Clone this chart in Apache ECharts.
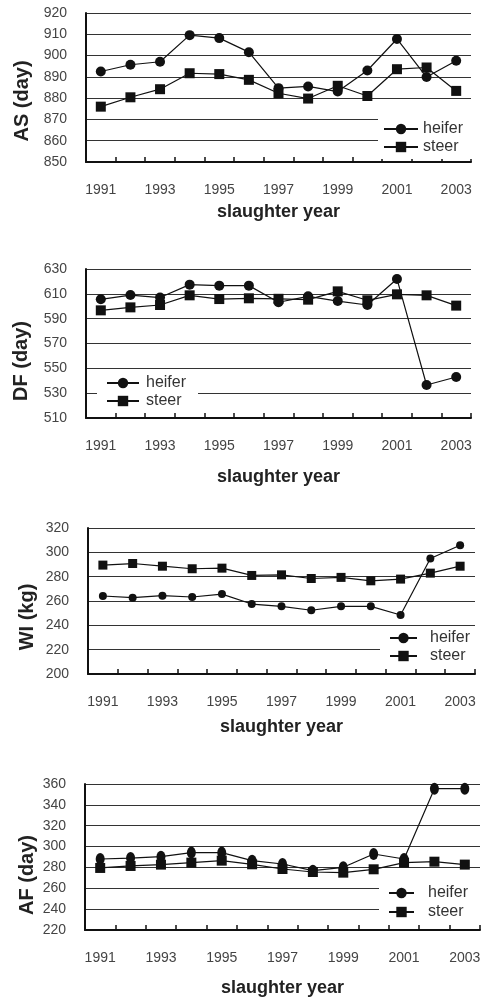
<!DOCTYPE html>
<html>
<head>
<meta charset="utf-8">
<script src="https://cdn.jsdelivr.net/npm/echarts@6/dist/echarts.min.js"></script>
<style>
html,body{margin:0;padding:0;background:#fff;}
#c{width:485px;height:999px;}
</style>
</head>
<body>
<div id="c"></div>
<script>
var years = ['1991','1992','1993','1994','1995','1996','1997','1998','1999','2000','2001','2002','2003'];
var seriesNames = ['heifer','steer'];
var xTitle = 'slaughter year';

var asName = 'AS (day)';
var asHeifer = [892.5, 895.7, 897.1, 909.6, 908.2, 901.6, 884.7, 885.5, 883.1, 893.0, 907.8, 889.9, 897.6];
var asSteer  = [876.0, 880.4, 884.2, 891.7, 891.3, 888.6, 882.3, 879.8, 885.8, 881.0, 893.6, 894.4, 883.4];
var asAxis = [850, 920, 10];

var dfName = 'DF (day)';
var dfHeifer = [605.6, 609.0, 607.0, 617.4, 616.6, 616.6, 603.2, 608.0, 604.2, 601.0, 622.0, 536.6, 543.0];
var dfSteer  = [596.7, 599.1, 601.0, 608.8, 605.8, 606.4, 606.0, 605.3, 612.0, 604.8, 609.6, 608.8, 600.5];
var dfAxis = [510, 630, 20];

var wiName = 'WI (kg)';
var wiHeifer = [264.1, 262.7, 264.4, 263.3, 265.7, 257.5, 255.6, 252.4, 255.6, 255.6, 248.5, 294.9, 305.8];
var wiSteer  = [289.5, 290.8, 288.6, 286.5, 287.0, 281.0, 281.5, 278.5, 279.4, 276.6, 278.0, 282.9, 288.6];
var wiAxis = [200, 320, 20];

var afName = 'AF (day)';
var afHeifer = [288.1, 289.0, 290.3, 294.2, 294.2, 286.5, 283.3, 276.9, 280.1, 292.9, 288.1, 355.5, 355.5];
var afSteer  = [279.5, 281.4, 282.7, 284.6, 286.5, 283.0, 278.5, 275.6, 275.0, 278.2, 284.6, 285.5, 282.7];
var afAxis = [220, 360, 20];

var FONT = '"Liberation Sans", Arial, sans-serif';

var panels = [
  {name: asName, h: asHeifer, s: asSteer, ax: asAxis,
   grid: {left: 86, top: 13, width: 385, height: 149}, nameGap: 41, yNameX: 22, yNameY: 101,
   hSize: 10, sSize: 10,
   legend: {left: 378, top: 115, itemWidth: 34, itemGap: 2, padding: [6, 10, 4, 5], textPad: 0}},
  {name: dfName, h: dfHeifer, s: dfSteer, ax: dfAxis,
   grid: {left: 86, top: 269, width: 385, height: 149}, nameGap: 50, yNameX: 21, yNameY: 361,
   hSize: 10, sSize: 10,
   legend: {left: 97, top: 370, itemWidth: 32, itemGap: 2, padding: [5, 12, 3, 9], textPad: 2}},
  {name: wiName, h: wiHeifer, s: wiSteer, ax: wiAxis,
   grid: {left: 88, top: 528, width: 387, height: 146}, nameGap: 44, yNameX: 27, yNameY: 617,
   hSize: 8, sSize: 9,
   legend: {left: 380, top: 627, itemWidth: 27, itemGap: 2, padding: [3, 10, 3, 9], textPad: 8}},
  {name: afName, h: afHeifer, s: afSteer, ax: afAxis,
   grid: {left: 85, top: 784, width: 395, height: 146}, nameGap: 49, yNameX: 27, yNameY: 875,
   hSize: [9, 12], sSize: 10,
   legend: {left: 379, top: 883, itemWidth: 25, itemGap: 3, padding: [2, 16, 3, 9], textPad: 9}}
];

var grids = [], xAxes = [], yAxes = [], series = [], legends = [], graphics = [];
panels.forEach(function (p, i) {
  grids.push(Object.assign({containLabel: false}, p.grid));
  xAxes.push({
    type: 'category', gridIndex: i, data: years, boundaryGap: true,
    axisLine: {show: true, lineStyle: {color: '#111', width: 2}},
    axisTick: {show: true, inside: true, length: 5, interval: 0, lineStyle: {color: '#111', width: 1.5}},
    axisLabel: {interval: 1, margin: 21, fontSize: 14, color: '#444', fontFamily: FONT},
    splitLine: {show: false},
    name: xTitle, nameLocation: 'middle', nameGap: p.nameGap,
    nameTextStyle: {fontSize: 18, fontWeight: 'bold', color: '#222', fontFamily: FONT}
  });
  yAxes.push({
    type: 'value', gridIndex: i, min: p.ax[0], max: p.ax[1], interval: p.ax[2],
    axisLine: {show: true, lineStyle: {color: '#111', width: 2}},
    axisTick: {show: false},
    axisLabel: {margin: 19, fontSize: 14, color: '#444', fontFamily: FONT},
    splitLine: {show: true, lineStyle: {color: '#333', width: 1.2}}
  });
  series.push({
    type: 'line', name: seriesNames[0], xAxisIndex: i, yAxisIndex: i, data: p.h,
    symbol: 'circle', symbolSize: p.hSize, showAllSymbol: true,
    lineStyle: {color: '#111', width: 1.2}, itemStyle: {color: '#111'},
    animation: false, z: 3
  });
  series.push({
    type: 'line', name: seriesNames[1], xAxisIndex: i, yAxisIndex: i, data: p.s,
    symbol: 'rect', symbolSize: p.sSize, showAllSymbol: true,
    lineStyle: {color: '#111', width: 1.2}, itemStyle: {color: '#111'},
    animation: false, z: 3
  });
  legends.push({
    orient: 'vertical', left: p.legend.left, top: p.legend.top,
    itemWidth: p.legend.itemWidth, itemHeight: 13, itemGap: p.legend.itemGap,
    padding: p.legend.padding, backgroundColor: '#fff',
    data: seriesNames, selectedMode: false, z: 5,
    textStyle: {fontSize: 16, lineHeight: 16, color: '#333', fontFamily: FONT, padding: [0, 0, 0, p.legend.textPad]}
  });
  graphics.push({
    type: 'text', x: p.yNameX, y: p.yNameY, rotation: Math.PI / 2,
    style: {text: p.name, fill: '#222', font: 'bold 20px ' + FONT,
            align: 'center', verticalAlign: 'middle'}
  });
});

var chart = echarts.init(document.getElementById('c'), null, {renderer: 'canvas'});
chart.setOption({
  animation: false,
  backgroundColor: '#fff',
  grid: grids, xAxis: xAxes, yAxis: yAxes, series: series, legend: legends, graphic: graphics
});
</script>
</body>
</html>
